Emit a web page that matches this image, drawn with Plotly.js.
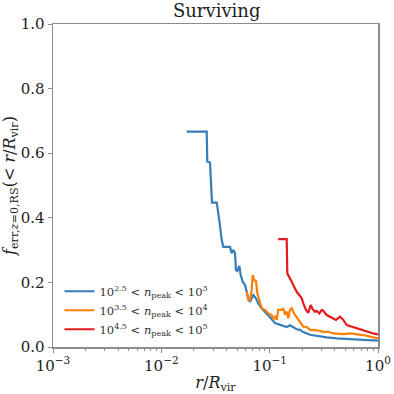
<!DOCTYPE html>
<html>
<head>
<meta charset="utf-8">
<script src="https://cdn.plot.ly/plotly-3.0.1.min.js"></script>
<style>
  html, body { margin: 0; padding: 0; background: #fff; }
  #chart { width: 394px; height: 394px; }
</style>
</head>
<body>
<div id="chart"></div>
<script>
// Surviving: cumulative error fraction vs r/Rvir, three n_peak bins

const COLORS = {
    low:  '#377eb8',
    mid:  '#ff7f00',
    high: '#e41a1c',
    axis: '#8c8c8c',
    text: '#222222',
};

const FONT = '"DejaVu Serif", "Liberation Serif", serif';

const SERIES_NAMES = [
    '10<sup>2.5</sup> < <i>n</i><sub>peak</sub> < 10<sup>3</sup>',
    '10<sup>3.5</sup> < <i>n</i><sub>peak</sub> < 10<sup>4</sup>',
    '10<sup>4.5</sup> < <i>n</i><sub>peak</sub> < 10<sup>5</sup>',
];

const lowX = [0.01714, 0.02623, 0.02657, 0.02813, 0.02937, 0.03245, 0.03428, 0.03609, 0.03733, 0.04305,
              0.04463, 0.04618, 0.04788, 0.0489, 0.05027, 0.05246, 0.05404, 0.05639, 0.0592, 0.06138,
              0.0635, 0.06583, 0.06825, 0.07063, 0.07479, 0.07853, 0.08443, 0.09391, 0.1007, 0.112,
              0.1291, 0.1436, 0.154, 0.1652, 0.1776, 0.1906, 0.2044, 0.2357, 0.2717, 0.3361,
              0.4157, 0.5514, 0.7318, 1.0];
const lowY = [0.667, 0.667, 0.574, 0.571, 0.447, 0.447, 0.393, 0.331, 0.31, 0.31,
              0.29, 0.30, 0.29, 0.238, 0.235, 0.251, 0.223, 0.202, 0.192, 0.171,
              0.151, 0.14, 0.151, 0.161, 0.151, 0.135, 0.12, 0.104, 0.092, 0.074,
              0.066, 0.062, 0.067, 0.060, 0.055, 0.053, 0.046, 0.038, 0.034, 0.030,
              0.027, 0.024, 0.022, 0.020];

const midX = [0.06138, 0.0635, 0.06583, 0.06825, 0.06973, 0.07169, 0.07479, 0.07689, 0.08023, 0.08443,
              0.09058, 0.09716, 0.1044, 0.108, 0.112, 0.1161, 0.1201, 0.1245, 0.1291, 0.1336,
              0.1385, 0.1436, 0.1486, 0.154, 0.1597, 0.1677, 0.1776, 0.1906, 0.2044, 0.2197,
              0.2357, 0.2621, 0.2812, 0.3127, 0.3477, 0.3867, 0.4783, 0.5514, 0.6822, 0.7318,
              0.8437, 1.0];
const midY = [0.171, 0.146, 0.146, 0.176, 0.223, 0.207, 0.205, 0.166, 0.146, 0.12,
              0.115, 0.104, 0.099, 0.086, 0.094, 0.084, 0.115, 0.115, 0.115, 0.12,
              0.10, 0.11, 0.089, 0.115, 0.12, 0.104, 0.092, 0.076, 0.063, 0.062,
              0.053, 0.052, 0.051, 0.047, 0.047, 0.042, 0.040, 0.042, 0.039, 0.037,
              0.032, 0.027];

const highX = [0.1201, 0.1436, 0.1455, 0.1518, 0.1597, 0.1677, 0.1776, 0.1877, 0.1976, 0.2044,
               0.2165, 0.2273, 0.2392, 0.2496, 0.2621, 0.2717, 0.2872, 0.3022, 0.3127, 0.3361,
               0.3867, 0.4097, 0.4459, 0.4783, 0.5141, 0.5918, 0.6822, 0.7868, 0.9052, 1.0];
const highY = [0.334, 0.334, 0.228, 0.218, 0.202, 0.187, 0.171, 0.161, 0.151, 0.135,
               0.115, 0.106, 0.130, 0.117, 0.109, 0.112, 0.104, 0.115, 0.112, 0.099,
               0.089, 0.084, 0.094, 0.084, 0.068, 0.061, 0.055, 0.047, 0.042, 0.039];

const X_TICKS = [0.001, 0.01, 0.1, 1];
const X_TICK_TEXT = ['10<sup>\u22123</sup>', '10<sup>\u22122</sup>', '10<sup>\u22121</sup>', '10<sup>0</sup>'];
const Y_TICKS = [0, 0.2, 0.4, 0.6, 0.8, 1.0];
const Y_TICK_TEXT = ['0.0', '0.2', '0.4', '0.6', '0.8', '1.0'];

function line(x, y, name, color) {
    return { x, y, name, type: 'scatter', mode: 'lines', line: { color, width: 2.2 } };
}

const traces = [
    line(lowX, lowY, SERIES_NAMES[0], COLORS.low),
    line(midX, midY, SERIES_NAMES[1], COLORS.mid),
    line(highX, highY, SERIES_NAMES[2], COLORS.high),
];

const axisCommon = {
    showline: true, mirror: true, linecolor: COLORS.axis, linewidth: 1.5,
    showgrid: false, zeroline: false,
    ticks: 'outside', tickcolor: COLORS.axis, ticklen: 4,
    tickfont: { family: FONT, size: 15, color: COLORS.text },
};

const layout = {
    width: 394, height: 394,
    paper_bgcolor: '#fff', plot_bgcolor: '#fff',
    font: { family: FONT, color: COLORS.text },
    margin: { t: 24, r: 16, b: 47, l: 53 },
    title: { text: 'Surviving', font: { size: 18, family: FONT }, x: 0.55, xanchor: 'center', y: 0.972, yanchor: 'middle' },
    xaxis: {
        ...axisCommon,
        type: 'log', range: [-3, 0],
        tickvals: X_TICKS, ticktext: X_TICK_TEXT,
        minor: { ticks: 'outside', ticklen: 2, tickcolor: COLORS.axis, dtick: 'D1' },
        title: { text: '<i>r</i>/<i>R</i><sub>vir</sub>', font: { size: 16, family: FONT }, standoff: 8 },
    },
    yaxis: {
        ...axisCommon,
        range: [0, 1],
        tickvals: Y_TICKS, ticktext: Y_TICK_TEXT,
        title: { text: '<i>f</i><sub>err,<i>z</i>=0,RS</sub>(< <i>r</i>/<i>R</i><sub>vir</sub>)', font: { size: 16, family: FONT }, standoff: 8 },
    },
    showlegend: true,
    legend: {
        x: 0.02, y: 0.01, xanchor: 'left', yanchor: 'bottom',
        bgcolor: 'rgba(255,255,255,0)', borderwidth: 0,
        font: { family: FONT, size: 11.5, color: '#333' },
    },
};

Plotly.newPlot('chart', traces, layout, { displayModeBar: false, staticPlot: true });
</script>
</body>
</html>
